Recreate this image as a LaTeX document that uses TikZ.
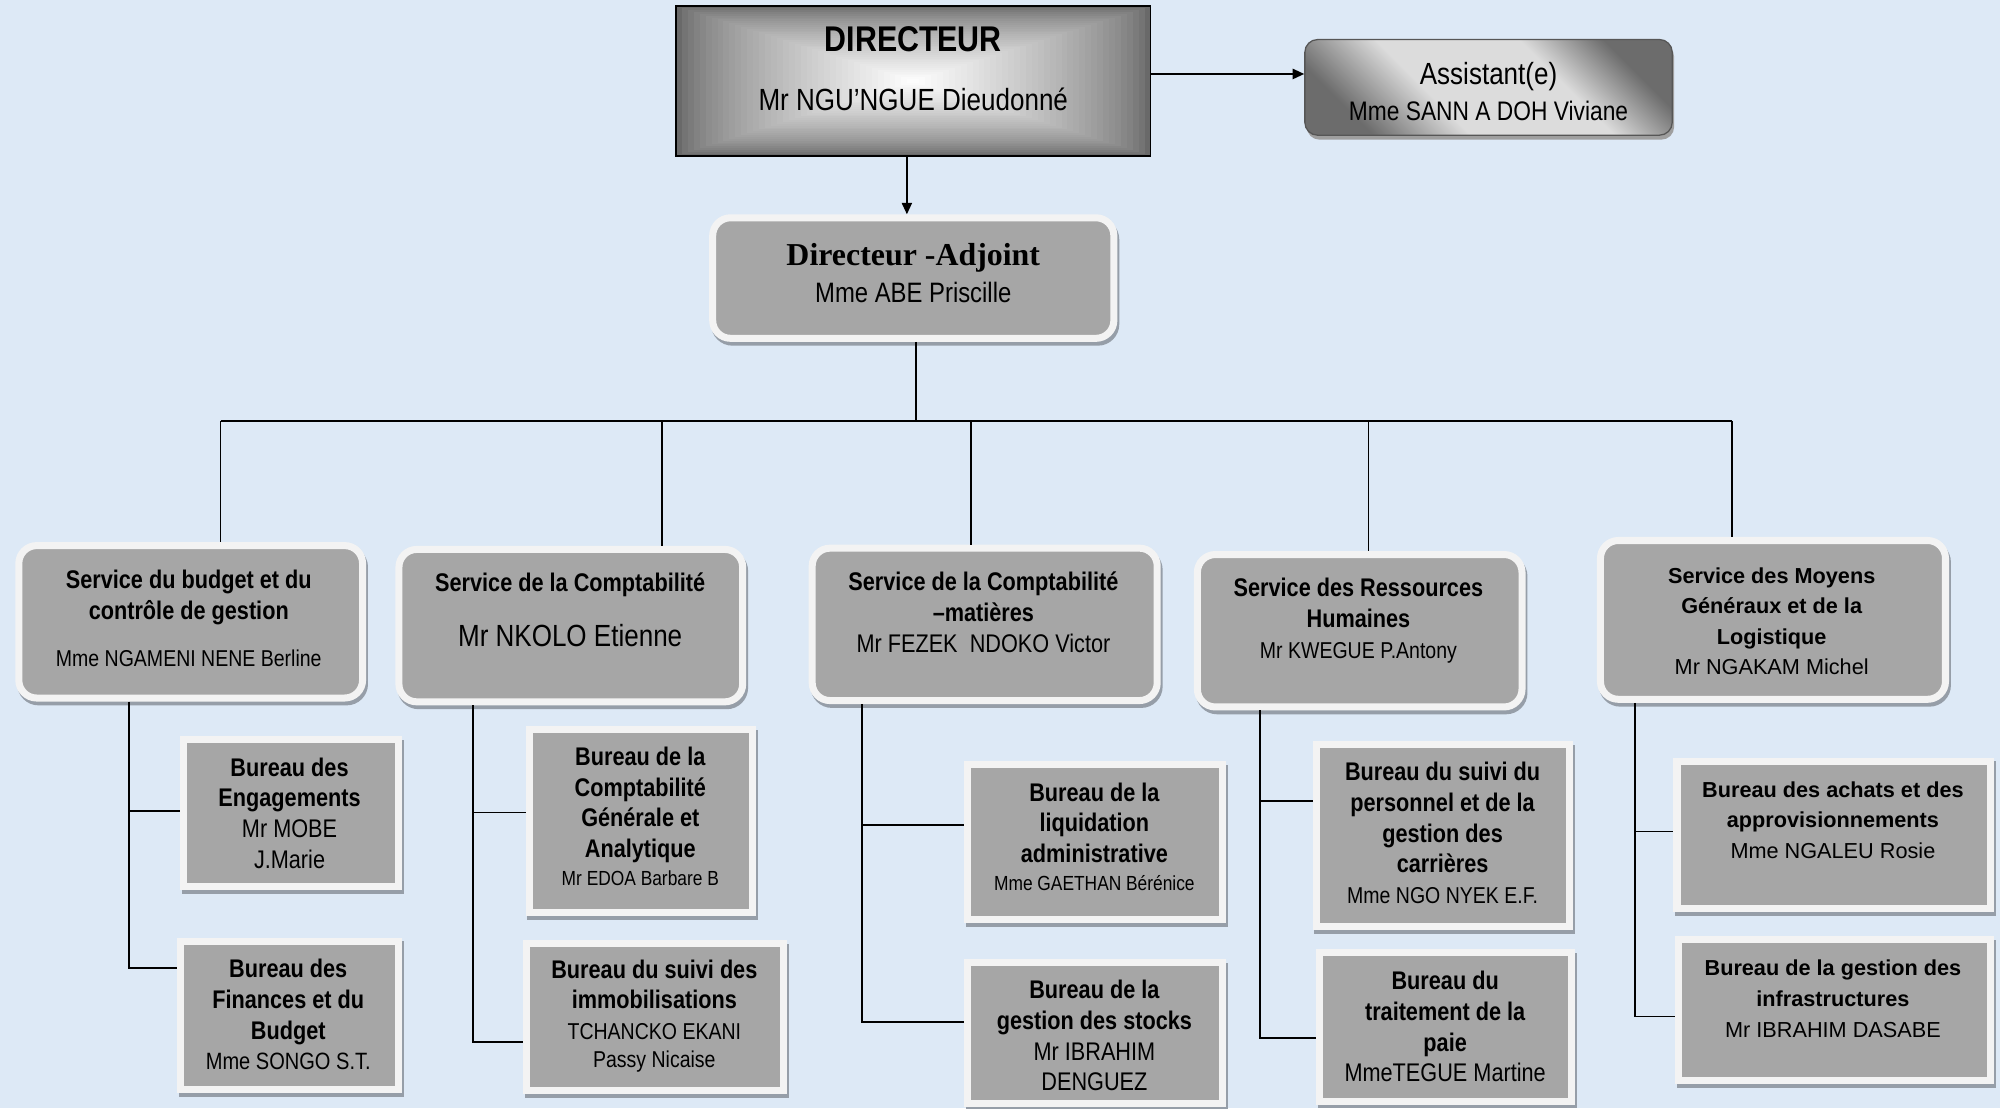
\documentclass[tikz,border=0pt]{standalone}
\usepackage{fontspec}
\setmainfont{Liberation Sans}
\newfontfamily\nar{Liberation Sans}[FakeStretch=0.85]
\newfontfamily\ser{Liberation Serif}
\usetikzlibrary{arrows.meta,shadows}
\definecolor{bgc}{RGB}{221,233,246}
\definecolor{boxg}{RGB}{166,166,166}
\definecolor{framec}{RGB}{243,243,243}
\definecolor{shadc}{RGB}{150,158,168}
\definecolor{dirg}{RGB}{105,105,105}
\definecolor{asdark}{RGB}{108,108,108}
\definecolor{aslight}{RGB}{220,220,220}
\pgfdeclareverticalshading{asshade}{100bp}{color(0bp)=(asdark); color(25bp)=(asdark); color(40bp)=(aslight); color(62bp)=(aslight); color(75bp)=(asdark); color(100bp)=(asdark)}
\begin{document}
\begin{tikzpicture}[x=1pt,y=-1pt,
  ln/.style={line width=1.3pt, black},
  arr/.style={ln, -{Triangle[length=9pt,width=8pt]}},
  shd/.style={drop shadow={shadow xshift=1.5pt, shadow yshift=-3pt, fill=shadc, draw=shadc, opacity=1}},
  svc/.style={draw=framec, line width=5.5pt, fill=boxg, rounded corners=14pt, inner sep=0pt, shd},
  bur/.style={draw=framec, line width=5.5pt, fill=boxg, inner sep=0pt, shd},
  txt/.style={align=center, inner sep=0pt, font=\nar\bfseries\fontsize{20}{24}\selectfont},
  txtr/.style={align=center, inner sep=0pt, font=\bfseries\fontsize{17}{24}\selectfont}
  ]
\fill[bgc] (0,0) rectangle (1568,868.7);
\useasboundingbox (0,0) rectangle (1568,868.7);

% director gradient
\foreach \i in {0,...,40}{
  \pgfmathsetmacro\c{100*pow((\i+0.001)/40.001,0.7)}
  \pgfmathsetmacro\hw{186*(1-\i/40)}
  \pgfmathsetmacro\hh{58.5*(1-\i/40)}
  \fill[white!\c!dirg] (716-\hw,63.5-\hh) rectangle (716+\hw,63.5+\hh);
}
\node[draw=black, line width=1.5pt, minimum width=372pt, minimum height=117pt, inner sep=0pt] (dir) at (716,63.5) {};
\node[inner sep=0pt, font=\nar\bfseries\fontsize{28}{30}\selectfont] (dirt1) at (716,31) {DIRECTEUR};
\node[inner sep=0pt, font=\nar\fontsize{24}{28}\selectfont] (dirt2) at (716,78) {Mr NGU’NGUE Dieudonné};

% assistant
\node[draw=asdark!80!black, line width=1pt, rounded corners=10pt, minimum width=288pt, minimum height=75pt, inner sep=0pt,
  shading=asshade, shading angle=-45,
  drop shadow={shadow xshift=1.5pt, shadow yshift=-3.5pt, fill=gray!75, opacity=1}] (asst) at (1167,68.5) {};
\node[align=center, inner sep=0pt, font=\nar\fontsize{24}{28}\selectfont] (asstt) at (1167,72) {Assistant(e)\\{\fontsize{21}{28}\selectfont Mme SANN A DOH Viviane}};

% directeur adjoint
\node[svc, minimum width=314.5pt, minimum height=94.5pt] (da) at (716,218) {};
\node[align=center, inner sep=0pt, font=\ser\bfseries\fontsize{25}{29}\selectfont] (dat) at (716,214) {Directeur -Adjoint\\{\nar\mdseries\fontsize{22}{29}\selectfont Mme ABE Priscille}};

% services
\node[svc, minimum width=269.5pt, minimum height=119.5pt] (s1) at (149.5,487.5) {};
\node[svc, minimum width=269.5pt, minimum height=119.5pt] (s2) at (447.5,490.5) {};
\node[svc, minimum width=270.5pt, minimum height=119.5pt] (s3) at (772,489.5) {};
\node[svc, minimum width=254.5pt, minimum height=119.5pt] (s4) at (1066,494.5) {};
\node[svc, minimum width=270.5pt, minimum height=124.5pt] (s5) at (1390,486) {};

\node[txt] (s1t) at (148,485) {Service du budget et du\\contrôle de gestion\\[13pt]{\mdseries\fontsize{18}{24}\selectfont Mme NGAMENI NENE Berline}};
\node[txt] (s2t) at (447,478) {Service de la Comptabilité\\[19pt]{\mdseries\fontsize{24}{24}\selectfont Mr NKOLO Etienne}};
\node[txt] (s3t) at (771,480) {Service de la Comptabilité\\–matières\\{\mdseries Mr FEZEK\ \ NDOKO Victor}};
\node[txt] (s4t) at (1065,486.5) {Service des Ressources\\Humaines\\{\mdseries\fontsize{18}{24}\selectfont Mr KWEGUE P.Antony}};
\node[txtr] (s5t) at (1389,487) {Service des Moyens\\Généraux et de la\\Logistique\\{\mdseries Mr NGAKAM Michel}};

% bureaux
\node[bur, minimum width=168.5pt, minimum height=115.5pt] (b1a) at (228,637.5) {};
\node[bur, minimum width=170.5pt, minimum height=116.5pt] (b1b) at (227,796) {};
\node[bur, minimum width=175.5pt, minimum height=143.5pt] (b2a) at (502.5,643.5) {};
\node[bur, minimum width=201.5pt, minimum height=115.5pt] (b2b) at (513.5,797.5) {};
\node[bur, minimum width=199.5pt, minimum height=121.5pt] (b3a) at (858.5,660.5) {};
\node[bur, minimum width=199.5pt, minimum height=110.5pt] (b3b) at (858.5,810) {};
\node[bur, minimum width=198.5pt, minimum height=142.5pt] (b4a) at (1131,655) {};
\node[bur, minimum width=197.5pt, minimum height=116.5pt] (b4b) at (1133.5,805) {};
\node[bur, minimum width=245.5pt, minimum height=115.5pt] (b5a) at (1437.5,654.5) {};
\node[bur, minimum width=244.5pt, minimum height=110.5pt] (b5b) at (1438,792) {};

\node[txt] (b1at) at (227,637.5) {Bureau des\\Engagements\\{\mdseries Mr MOBE}\\{\mdseries J.Marie}};
\node[txt] (b1bt) at (226,795.5) {Bureau des\\Finances et du\\Budget\\{\mdseries\fontsize{18.5}{24}\selectfont Mme SONGO S.T.}};
\node[txt] (b2at) at (502,640) {Bureau de la\\Comptabilité\\Générale et\\Analytique\\[-2pt]{\mdseries\fontsize{16}{24}\selectfont Mr EDOA Barbare B}};
\node[txt] (b2bt) at (513,796.5) {Bureau du suivi des\\immobilisations\\{\mdseries\fontsize{18}{24}\selectfont TCHANCKO EKANI}\\[-2pt]{\mdseries\fontsize{18}{24}\selectfont Passy Nicaise}};
\node[txt] (b3at) at (858,656) {Bureau de la\\liquidation\\administrative\\[-2pt]{\mdseries\fontsize{16}{24}\selectfont Mme GAETHAN Bérénice}};
\node[txt] (b3bt) at (858,812) {Bureau de la\\gestion des stocks\\{\mdseries Mr IBRAHIM}\\{\mdseries DENGUEZ}};
\node[txt] (b4at) at (1131,653) {Bureau du suivi du\\personnel et de la\\gestion des\\carrières\\{\mdseries\fontsize{18}{24}\selectfont Mme NGO NYEK E.F.}};
\node[txt] (b4bt) at (1133,805) {Bureau du\\traitement de la\\paie\\{\mdseries MmeTEGUE Martine}};
\node[txtr] (b5at) at (1437,643) {Bureau des achats et des\\approvisionnements\\{\mdseries Mme NGALEU Rosie}};
\node[txtr] (b5bt) at (1437,783) {Bureau de la gestion des\\infrastructures\\{\mdseries Mr IBRAHIM DASABE}};

% connectors top
\draw[arr] ([yshift=5.5pt]dir.east) -- ([yshift=5.5pt]dir.east -| asst.west);
\draw[arr] ([xshift=-5pt]dir.south) -- ([xshift=-5pt]dir.south |- da.north);

\coordinate (bus) at (718,330);
\coordinate (j1) at (173,330);
\coordinate (j2) at (519,330);
\coordinate (j3) at (761,330);
\coordinate (j4) at (1073,330);
\coordinate (j5) at (1358,330);
\draw[ln] ([xshift=2pt]da.south) -- ([xshift=2pt]da.south |- bus);
\draw[ln] (j1) -- (j5);
\draw[ln] (j1) -- (j1 |- s1.north);
\draw[ln] (j2) -- (j2 |- s2.north);
\draw[ln] (j3) -- (j3 |- s3.north);
\draw[ln] (j4) -- (j4 |- s4.north);
\draw[ln] (j5) -- (j5 |- s5.north);

% service to bureaux
\coordinate (v1) at (101,0);
\coordinate (v2) at (371,0);
\coordinate (v3) at (676,0);
\coordinate (v4) at (988,0);
\coordinate (v5) at (1282,0);
\draw[ln] (v1 |- s1.south) -- (v1 |- 0,759) -- (b1b.west |- 0,759);
\draw[ln] (v1 |- 0,636) -- (b1a.west |- 0,636);
\draw[ln] (v2 |- s2.south) -- (v2 |- 0,817) -- (b2b.west |- 0,817);
\draw[ln] (v2 |- 0,637) -- (b2a.west |- 0,637);
\draw[ln] (v3 |- s3.south) -- (v3 |- 0,801) -- (b3b.west |- 0,801);
\draw[ln] (v3 |- 0,647) -- (b3a.west |- 0,647);
\draw[ln] (v4 |- s4.south) -- (v4 |- 0,814) -- (b4b.west |- 0,814);
\draw[ln] (v4 |- 0,628) -- (b4a.west |- 0,628);
\draw[ln] (v5 |- s5.south) -- (v5 |- 0,797) -- (b5b.west |- 0,797);
\draw[ln] (v5 |- 0,652) -- (b5a.west |- 0,652);
\end{tikzpicture}
\end{document}
